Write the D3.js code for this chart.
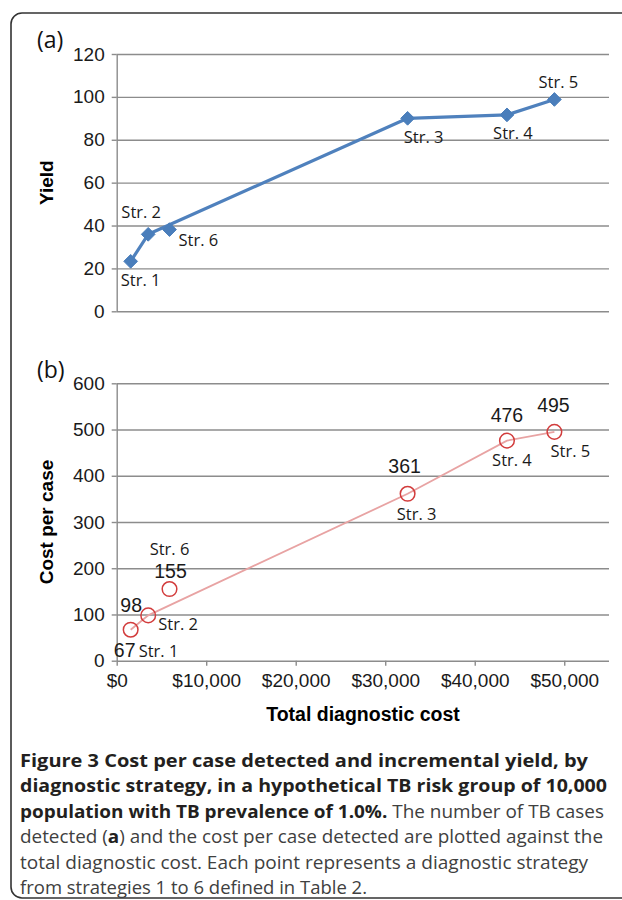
<!DOCTYPE html>
<html>
<head>
<meta charset="utf-8">
<script src="https://cdn.jsdelivr.net/npm/d3@7/dist/d3.min.js"></script>
<style>
  html, body { margin: 0; padding: 0; background: #ffffff; }
  svg { display: block; }
</style>
</head>
<body>
<svg id="fig" width="622" height="900"></svg>
<script>
// Diagnostic strategies (in the order of the source table)
const strategies = ["Str. 1", "Str. 2", "Str. 3", "Str. 4", "Str. 5", "Str. 6"];
// Total diagnostic cost per strategy (US$)
const totalCost = [1560, 3520, 32500, 43600, 48900, 5900];
// TB cases detected (yield)
const yieldCases = [23.3, 35.9, 90.0, 91.6, 98.8, 38.1];
// Cost per case detected (US$)
const costPerCase = [67, 98, 361, 476, 495, 155];
// Strategies joined by the connecting line (cost-efficient path)
const frontier = ["Str. 1", "Str. 2", "Str. 3", "Str. 4", "Str. 5"];

// Axis ticks
const yieldTicks = [0, 20, 40, 60, 80, 100, 120];
const cpcTicks = [0, 100, 200, 300, 400, 500, 600];
const costTicks = [0, 10000, 20000, 30000, 40000, 50000];

const rows = strategies.map((s, i) => ({
  name: s, cost: totalCost[i], yld: yieldCases[i], cpc: costPerCase[i]
}));
const lineRows = frontier.map(n => rows.find(r => r.name === n));

// Label placement (pixel offsets from the mark)
const yieldLabelPos = {
  "Str. 1": [10, 25, "middle"], "Str. 2": [-7, -16, "middle"],
  "Str. 6": [9, 16, "start"],   "Str. 3": [16, 25, "middle"],
  "Str. 4": [6, 24, "middle"],  "Str. 5": [4, -11, "middle"]
};
const cpcValuePos = {
  "Str. 1": [-6, 27, "middle"], "Str. 2": [-17, -3, "middle"],
  "Str. 6": [1, -11, "middle"], "Str. 3": [-3, -21, "middle"],
  "Str. 4": [0, -19, "middle"], "Str. 5": [-1, -20, "middle"]
};
const cpcNamePos = {
  "Str. 1": [8, 27, "start"],  "Str. 2": [10, 15, "start"],
  "Str. 6": [0, -34, "middle"], "Str. 3": [9, 26, "middle"],
  "Str. 4": [5, 25, "middle"], "Str. 5": [16, 25, "middle"]
};

const svg = d3.select("#fig");
const tickFont = "'Liberation Sans', Arial, sans-serif";
const labelFont = "'Open Sans', 'Noto Sans', sans-serif";
const gridColor = "#8c8c8c";
const tickSize = "19px";
const nameSize = "16.5px";

// Outer frame with rounded corners
svg.append("rect")
  .attr("x", 11).attr("y", 13).attr("width", 700).attr("height", 885)
  .attr("rx", 11).attr("fill", "none")
  .attr("stroke", "#333").attr("stroke-width", 1.6);

const x = d3.scaleLinear().domain([0, 55000]).range([116.7, 609]);
const yA = d3.scaleLinear().domain([0, 120]).range([311.3, 54]);
const yB = d3.scaleLinear().domain([0, 600]).range([660.7, 383.3]);
const plotW = x.range()[1] - x.range()[0];

function yAxis(scale, ticks) {
  const g = svg.append("g").attr("transform", `translate(${x.range()[0]},0)`);
  // gridlines
  g.append("g").call(d3.axisLeft(scale).tickValues(ticks).tickSize(-plotW).tickFormat(""))
    .call(s => s.select(".domain").remove())
    .call(s => s.selectAll("line").attr("stroke", gridColor).attr("stroke-width", 1.4));
  // ticks and labels
  g.append("g").call(d3.axisLeft(scale).tickValues(ticks).tickSize(5).tickSizeOuter(0).tickPadding(7))
    .call(s => s.select(".domain").attr("stroke", gridColor).attr("stroke-width", 1.4))
    .call(s => s.selectAll("line").attr("stroke", gridColor).attr("stroke-width", 1.4))
    .call(s => s.selectAll("text").attr("fill", "#1a1a1a")
      .style("font-family", tickFont).style("font-size", tickSize));
}

// ---------- Panel (a): yield ----------
svg.append("text").attr("x", 37).attr("y", 48).text("(a)")
  .style("font-family", labelFont).style("font-size", "23px").attr("fill", "#111");
yAxis(yA, yieldTicks);

svg.append("text")
  .attr("transform", `translate(53,${(yA.range()[0] + yA.range()[1]) / 2}) rotate(-90)`)
  .attr("text-anchor", "middle").text("Yield")
  .style("font-family", tickFont).style("font-weight", "bold").style("font-size", "19px");

svg.append("path").datum(lineRows)
  .attr("d", d3.line().x(d => x(d.cost)).y(d => yA(d.yld)))
  .attr("fill", "none").attr("stroke", "#4f81bd").attr("stroke-width", 3.2)
  .attr("stroke-linejoin", "round");

svg.append("g").selectAll("path").data(rows).join("path")
  .attr("transform", d => `translate(${x(d.cost)},${yA(d.yld)})`)
  .attr("d", d3.symbol(d3.symbolDiamond2, 120)())
  .attr("fill", "#4a7ebb").attr("stroke", "#4a7ebb").attr("stroke-width", 1);

svg.append("g").selectAll("text").data(rows).join("text")
  .attr("x", d => x(d.cost) + yieldLabelPos[d.name][0])
  .attr("y", d => yA(d.yld) + yieldLabelPos[d.name][1])
  .attr("text-anchor", d => yieldLabelPos[d.name][2])
  .text(d => d.name)
  .style("font-family", labelFont).style("font-size", nameSize).attr("fill", "#1a1a1a");

// ---------- Panel (b): cost per case ----------
svg.append("text").attr("x", 37).attr("y", 378).text("(b)")
  .style("font-family", labelFont).style("font-size", "23px").attr("fill", "#111");
yAxis(yB, cpcTicks);

svg.append("g").attr("transform", `translate(0,${yB.range()[0]})`)
  .call(d3.axisBottom(x).tickValues(costTicks).tickSize(5).tickSizeOuter(0).tickPadding(8)
    .tickFormat(d => "$" + d3.format(",")(d)))
  .call(s => s.select(".domain").remove())
  .call(s => s.selectAll("line").attr("stroke", gridColor).attr("stroke-width", 1.4))
  .call(s => s.selectAll("text").attr("fill", "#1a1a1a")
    .style("font-family", tickFont).style("font-size", tickSize));

svg.append("text")
  .attr("transform", `translate(53,${(yB.range()[0] + yB.range()[1]) / 2}) rotate(-90)`)
  .attr("text-anchor", "middle").text("Cost per case")
  .style("font-family", tickFont).style("font-weight", "bold").style("font-size", "19px");

svg.append("text").attr("x", 363).attr("y", 721).attr("text-anchor", "middle")
  .text("Total diagnostic cost")
  .style("font-family", tickFont).style("font-weight", "bold").style("font-size", "19.5px");

svg.append("path").datum(lineRows)
  .attr("d", d3.line().x(d => x(d.cost)).y(d => yB(d.cpc)))
  .attr("fill", "none").attr("stroke", "#e8a3a3").attr("stroke-width", 1.8);

svg.append("g").selectAll("circle").data(rows).join("circle")
  .attr("cx", d => x(d.cost)).attr("cy", d => yB(d.cpc)).attr("r", 7.3)
  .attr("fill", "none").attr("stroke", "#d23c3c").attr("stroke-width", 1.5);

svg.append("g").selectAll("text").data(rows).join("text")
  .attr("x", d => x(d.cost) + cpcValuePos[d.name][0])
  .attr("y", d => yB(d.cpc) + cpcValuePos[d.name][1])
  .attr("text-anchor", d => cpcValuePos[d.name][2])
  .text(d => d.cpc)
  .style("font-family", tickFont).style("font-size", "19.5px").attr("fill", "#1a1a1a");

svg.append("g").selectAll("text").data(rows).join("text")
  .attr("x", d => x(d.cost) + cpcNamePos[d.name][0])
  .attr("y", d => yB(d.cpc) + cpcNamePos[d.name][1])
  .attr("text-anchor", d => cpcNamePos[d.name][2])
  .text(d => d.name)
  .style("font-family", labelFont).style("font-size", nameSize).attr("fill", "#1a1a1a");

// ---------- Caption ----------
const captionLines = [
  [["Figure 3 Cost per case detected and incremental yield, by", true]],
  [["diagnostic strategy, in a hypothetical TB risk group of 10,000", true]],
  [["population with TB prevalence of 1.0%.", true], [" The number of TB cases", false]],
  [["detected (", false], ["a", true], [") and the cost per case detected are plotted against the", false]],
  [["total diagnostic cost. Each point represents a diagnostic strategy", false]],
  [["from strategies 1 to 6 defined in Table 2.", false]]
];
const captionWidths = [568, 587, 584, 583, 568, 347];
const cap = svg.append("g");
captionLines.forEach((parts, i) => {
  const t = cap.append("text").attr("x", 20).attr("y", 767 + i * 25.4)
    .attr("textLength", captionWidths[i]).attr("lengthAdjust", "spacingAndGlyphs")
    .style("font-family", labelFont).style("font-size", "18.5px");
  parts.forEach(([str, bold]) => {
    t.append("tspan").text(str)
      .style("font-weight", bold ? "bold" : "normal")
      .attr("fill", bold ? "#231f20" : "#404040");
  });
});
</script>
</body>
</html>
